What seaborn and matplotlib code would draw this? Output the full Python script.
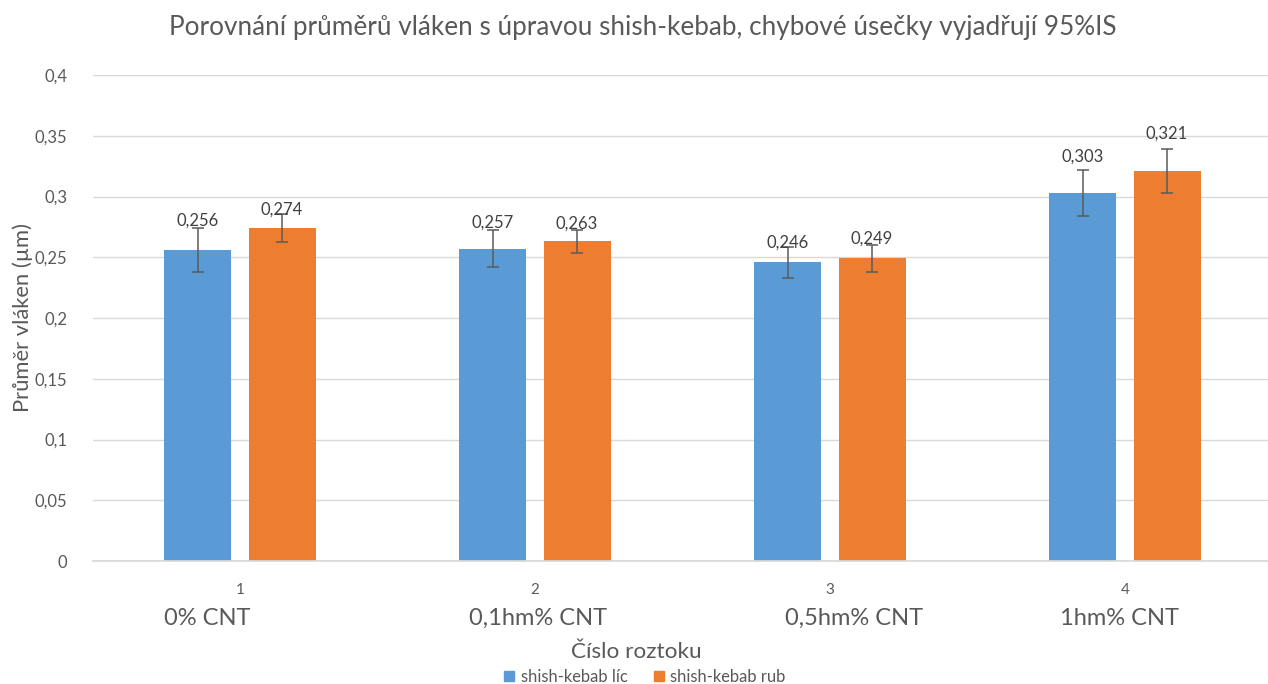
import matplotlib
matplotlib.use("Agg")
import matplotlib.pyplot as plt
import seaborn as sns
import pandas as pd
from matplotlib.patches import Patch

# --- data -------------------------------------------------------------
categories = ["1", "2", "3", "4"]
category_names = ["0% CNT", "0,1hm% CNT", "0,5hm% CNT", "1hm% CNT"]
series_names = ["shish-kebab líc", "shish-kebab rub"]
lic_values = [0.256, 0.257, 0.246, 0.303]
rub_values = [0.274, 0.263, 0.249, 0.321]
lic_ci = [0.0178, 0.0152, 0.0128, 0.0187]
rub_ci = [0.0113, 0.0098, 0.0110, 0.0185]
y_ticks = [0, 0.05, 0.1, 0.15, 0.2, 0.25, 0.3, 0.35, 0.4]

# --- style ------------------------------------------------------------
BLUE = "#5B9BD5"
ORANGE = "#ED7D31"
TXT = "#595959"
GRID = "#D9D9D9"
# vertical nudge (px) of each value label above its bar
label_lift = [[24, 13], [21, 13], [14, 15], [31, 32]]
# horizontal shift of the solution names relative to the category centre
name_shift = [-0.11, 0.01, 0.08, -0.02]

sns.set_theme(style="white")
plt.rcParams["font.family"] = ["Lato", "DejaVu Sans"]

df = pd.DataFrame({
    "cat": categories * 2,
    "val": lic_values + rub_values,
    "ser": [series_names[0]] * 4 + [series_names[1]] * 4,
})

fig = plt.figure(figsize=(12.68, 6.84), dpi=100)
ax = fig.add_axes([92.5 / 1268, 123 / 684, 1180 / 1268, 486 / 684])

sns.barplot(data=df, x="cat", y="val", hue="ser", hue_order=series_names,
            palette=[BLUE, ORANGE], width=0.5695, gap=0.2024, errorbar=None,
            legend=False, ax=ax, saturation=1, linewidth=0)

bar_groups = list(ax.containers)
ci_all = [lic_ci, rub_ci]
vals_all = [lic_values, rub_values]
for s, cont in enumerate(bar_groups):
    xs = [p.get_x() + p.get_width() / 2 for p in cont.patches]
    ax.errorbar(xs, vals_all[s], yerr=ci_all[s], fmt="none", ecolor="#5a5a5a",
                elinewidth=1.1, capsize=4, capthick=1.1, zorder=3)
    for i, (x, v) in enumerate(zip(xs, vals_all[s])):
        ax.annotate(f"{v:.3f}".replace(".", ","), (x, v),
                    xytext=(0, label_lift[i][s] * 0.72), textcoords="offset points",
                    ha="center", va="baseline", fontsize=12, color="#404040")

ax.set_xlim(-0.5, 3.5)
ax.set_ylim(0, 0.4)
ax.set_yticks(y_ticks)
ax.set_yticklabels([("%g" % t).replace(".", ",") for t in y_ticks],
                   fontsize=12, color=TXT)
ax.yaxis.grid(True, color=GRID, linewidth=1)
ax.set_axisbelow(True)
for side in ["left", "right", "top"]:
    ax.spines[side].set_visible(False)
ax.spines["bottom"].set_color(GRID)
ax.tick_params(axis="both", length=0)
ax.tick_params(axis="y", pad=18)
ax.tick_params(axis="x", pad=16)
ax.set_xticks(range(len(categories)))
ax.set_xticklabels(categories, fontsize=11, color=TXT)
ax.set_xlabel("")
ax.set_ylabel("Průměr vláken (µm)", fontsize=15.8, color=TXT)
ax.yaxis.set_label_coords(-0.0504, 0.5)

for i, name in enumerate(category_names):
    ax.text(i + name_shift[i], -0.047, name, ha="center", va="center",
            fontsize=17, color=TXT, transform=ax.transData, clip_on=False)

fig.text(636 / 1268, 1 - 652 / 684, "Číslo roztoku", ha="center", va="center",
         fontsize=16.2, color=TXT)
fig.text(642.5 / 1268, 1 - 27 / 684,
         "Porovnání průměrů vláken s úpravou shish-kebab, chybové úsečky vyjadřují 95%IS",
         ha="center", va="center", fontsize=18.8, color=TXT)

handles = [Patch(color=BLUE, label=series_names[0]),
           Patch(color=ORANGE, label=series_names[1])]
fig.legend(handles=handles, loc="center", bbox_to_anchor=(645 / 1268, 1 - 677 / 684),
           ncol=2, frameon=False, fontsize=11.9, handlelength=0.6,
           handleheight=0.6, handletextpad=0.4, columnspacing=1.6,
           labelcolor=TXT)

fig.savefig("out.png", dpi=100)
